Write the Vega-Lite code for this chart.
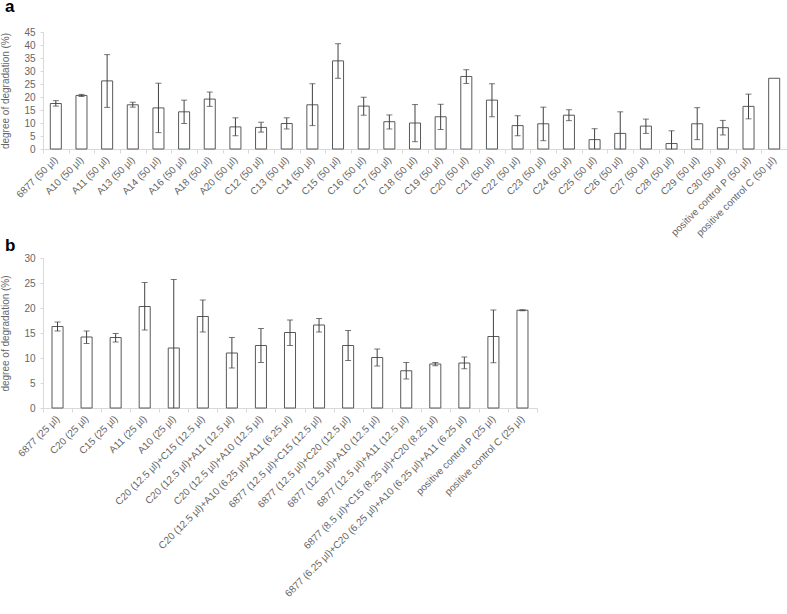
{
  "$schema": "https://vega.github.io/schema/vega-lite/v6.json",
  "padding": {"left": 0, "top": -2, "right": 0, "bottom": 0},
  "bounds": "flush",
  "spacing": 109,
  "config": {
    "view": {"stroke": null},
    "font": "Liberation Sans",
    "axis": {
      "grid": false,
      "domainColor": "#d9d9d9",
      "tickColor": "#d9d9d9",
      "labelColor": "#666666",
      "titleColor": "#666666",
      "labelFont": "Liberation Sans",
      "titleFont": "Liberation Sans",
      "labelFontSize": 10,
      "titleFontSize": 10,
      "titleFontWeight": "normal",
      "labelOverlap": false
    }
  },
  "datasets": {
    "a": [
      {"name": "6877 (50 µl)", "value": 17.5, "lo": 16.5, "hi": 18.6},
      {"name": "A10  (50 µl)", "value": 20.6, "lo": 20.2, "hi": 21.0},
      {"name": "A11 (50 µl)", "value": 26.2, "lo": 16.0, "hi": 36.3},
      {"name": "A13 (50 µl)", "value": 17.0, "lo": 16.1, "hi": 18.0},
      {"name": "A14 (50 µl)", "value": 15.8, "lo": 6.3, "hi": 25.3},
      {"name": "A16 (50 µl)", "value": 14.3, "lo": 9.8, "hi": 18.8},
      {"name": "A18 (50 µl)", "value": 19.2, "lo": 16.4, "hi": 21.9},
      {"name": "A20 (50 µl)", "value": 8.5, "lo": 5.1, "hi": 12.0},
      {"name": "C12 (50 µl)", "value": 8.3, "lo": 6.5, "hi": 10.3},
      {"name": "C13 (50 µl)", "value": 9.8, "lo": 7.7, "hi": 12.0},
      {"name": "C14 (50 µl)", "value": 17.0, "lo": 9.0, "hi": 25.1},
      {"name": "C15 (50 µl)", "value": 33.9, "lo": 27.2, "hi": 40.5},
      {"name": "C16 (50 µl)", "value": 16.5, "lo": 13.0, "hi": 19.9},
      {"name": "C17 (50 µl)", "value": 10.5, "lo": 7.7, "hi": 13.1},
      {"name": "C18 (50 µl)", "value": 10.0, "lo": 2.8, "hi": 17.1},
      {"name": "C19 (50 µl)", "value": 12.4, "lo": 7.5, "hi": 17.2},
      {"name": "C20 (50 µl)", "value": 27.9, "lo": 25.2, "hi": 30.5},
      {"name": "C21 (50 µl)", "value": 18.8, "lo": 12.4, "hi": 25.1},
      {"name": "C22 (50 µl)", "value": 9.0, "lo": 5.1, "hi": 12.8},
      {"name": "C23 (50 µl)", "value": 9.7, "lo": 3.2, "hi": 16.1},
      {"name": "C24 (50 µl)", "value": 13.0, "lo": 10.9, "hi": 15.1},
      {"name": "C25 (50 µl)", "value": 3.6, "lo": -0.6, "hi": 7.8},
      {"name": "C26 (50 µl)", "value": 6.0, "lo": -2.3, "hi": 14.3},
      {"name": "C27 (50 µl)", "value": 8.8, "lo": 6.0, "hi": 11.5},
      {"name": "C28 (50 µl)", "value": 2.1, "lo": -2.8, "hi": 7.0},
      {"name": "C29 (50 µl)", "value": 9.7, "lo": 3.6, "hi": 15.9},
      {"name": "C30 (50 µl)", "value": 8.2, "lo": 5.4, "hi": 11.0},
      {"name": "positive control P  (50 µl)", "value": 16.4, "lo": 11.6, "hi": 21.1},
      {"name": "positive control C (50 µl)", "value": 27.2, "lo": null, "hi": null}
    ],
    "b": [
      {"name": "6877 (25 µl)", "value": 16.3, "lo": 15.4, "hi": 17.2},
      {"name": "C20 (25 µl)", "value": 14.2, "lo": 12.9, "hi": 15.4},
      {"name": "C15 (25 µl)", "value": 14.1, "lo": 13.2, "hi": 14.9},
      {"name": "A11 (25 µl)", "value": 20.3, "lo": 15.6, "hi": 25.1},
      {"name": "A10 (25 µl)", "value": 12.0, "lo": -1.7, "hi": 25.7},
      {"name": "C20 (12.5 µl)+C15 (12.5 µl)", "value": 18.3, "lo": 15.2, "hi": 21.6},
      {"name": "C20 (12.5 µl)+A11 (12.5 µl)", "value": 11.0, "lo": 8.0, "hi": 14.1},
      {"name": "C20 (12.5 µl)+A10 (12.5 µl)", "value": 12.5, "lo": 9.1, "hi": 15.9},
      {"name": "C20 (12.5 µl)+A10 (6.25 µl)+A11 (6.25 µl)", "value": 15.1, "lo": 12.5, "hi": 17.6},
      {"name": "6877 (12.5 µl)+C15 (12.5 µl)", "value": 16.6, "lo": 15.2, "hi": 17.9},
      {"name": "6877 (12.5 µl)+C20 (12.5 µl)", "value": 12.5, "lo": 9.5, "hi": 15.5},
      {"name": "6877 (12.5 µl)+A10 (12.5 µl)", "value": 10.1, "lo": 8.4, "hi": 11.8},
      {"name": "6877 (12.5 µl)+A11 (12.5 µl)", "value": 7.45, "lo": 5.8, "hi": 9.1},
      {"name": "6877 (8.5 µl)+C15 (8.25 µl)+C20 (8.25 µl)", "value": 8.8, "lo": 8.45, "hi": 9.1},
      {"name": "6877 (6.25 µl)+C20 (6.25 µl)+A10 (6.25 µl)+A11 (6.25 µl)", "value": 9.0, "lo": 7.85, "hi": 10.2},
      {"name": "positive control P (25 µl)", "value": 14.3, "lo": 9.05, "hi": 19.6},
      {"name": "positive control C (25 µl)", "value": 19.55, "lo": 19.45, "hi": 19.65}
    ]
  },
  "vconcat": [
    {
      "title": {"text": "a", "anchor": "start", "frame": "group", "dx": -38, "offset": -2.2, "fontSize": 17, "fontWeight": "bold", "color": "#000000", "baseline": "alphabetic", "font": "Liberation Sans"},
      "width": 744,
      "height": 117,
      "data": {"name": "a"},
      "encoding": {
        "x": {
          "field": "name", "type": "nominal", "sort": null,
          "scale": {"paddingInner": 0, "paddingOuter": 0},
          "axis": {"title": null, "labelAngle": -45, "labelAlign": "right", "labelBaseline": "middle", "tickBand": "extent", "tickSize": 4, "labelPadding": 5, "labelLimit": 500}
        }
      },
      "layer": [
        {
          "mark": {"type": "bar", "fill": "white", "stroke": "#595959", "strokeWidth": 1, "width": {"band": 0.43}},
          "encoding": {
            "y": {"field": "value", "type": "quantitative", "scale": {"domain": [0, 45], "nice": false},
              "axis": {"title": "degree of degradation (%)", "values": [0, 5, 10, 15, 20, 25, 30, 35, 40, 45], "labelOverlap": false, "tickSize": 3, "labelPadding": 5, "titlePadding": 13}}
          }
        },
        {
          "mark": {"type": "rule", "color": "#404040", "strokeWidth": 1, "clip": true},
          "encoding": {"y": {"field": "lo", "type": "quantitative", "axis": {"title": "degree of degradation (%)", "values": [0, 5, 10, 15, 20, 25, 30, 35, 40, 45], "labelOverlap": false, "tickSize": 3, "labelPadding": 5, "titlePadding": 13}}, "y2": {"field": "hi"}}
        },
        {
          "mark": {"type": "tick", "color": "#404040", "size": 6, "thickness": 1, "clip": true},
          "encoding": {"y": {"field": "lo", "type": "quantitative", "axis": {"title": "degree of degradation (%)", "values": [0, 5, 10, 15, 20, 25, 30, 35, 40, 45], "labelOverlap": false, "tickSize": 3, "labelPadding": 5, "titlePadding": 13}}}
        },
        {
          "mark": {"type": "tick", "color": "#404040", "size": 6, "thickness": 1, "clip": true},
          "encoding": {"y": {"field": "hi", "type": "quantitative", "axis": {"title": "degree of degradation (%)", "values": [0, 5, 10, 15, 20, 25, 30, 35, 40, 45], "labelOverlap": false, "tickSize": 3, "labelPadding": 5, "titlePadding": 13}}}
        }
      ]
    },
    {
      "title": {"text": "b", "anchor": "start", "frame": "group", "dx": -38, "offset": -15, "fontSize": 17, "fontWeight": "bold", "color": "#000000", "baseline": "alphabetic", "font": "Liberation Sans"},
      "width": 494,
      "height": 150,
      "data": {"name": "b"},
      "encoding": {
        "x": {
          "field": "name", "type": "nominal", "sort": null,
          "scale": {"paddingInner": 0, "paddingOuter": 0},
          "axis": {"title": null, "labelAngle": -45, "labelAlign": "right", "labelBaseline": "middle", "tickBand": "extent", "tickSize": 4, "labelPadding": 5, "labelLimit": 500}
        }
      },
      "layer": [
        {
          "mark": {"type": "bar", "fill": "white", "stroke": "#595959", "strokeWidth": 1, "width": {"band": 0.38}},
          "encoding": {
            "y": {"field": "value", "type": "quantitative", "scale": {"domain": [0, 30], "nice": false},
              "axis": {"title": "degree of degradation (%)", "values": [0, 5, 10, 15, 20, 25, 30], "labelOverlap": false, "tickSize": 3, "labelPadding": 5, "titlePadding": 13}}
          }
        },
        {
          "mark": {"type": "rule", "color": "#404040", "strokeWidth": 1, "clip": true},
          "encoding": {"y": {"field": "lo", "type": "quantitative", "axis": {"title": "degree of degradation (%)", "values": [0, 5, 10, 15, 20, 25, 30], "labelOverlap": false, "tickSize": 3, "labelPadding": 5, "titlePadding": 13}}, "y2": {"field": "hi"}}
        },
        {
          "mark": {"type": "tick", "color": "#404040", "size": 6, "thickness": 1, "clip": true},
          "encoding": {"y": {"field": "lo", "type": "quantitative", "axis": {"title": "degree of degradation (%)", "values": [0, 5, 10, 15, 20, 25, 30], "labelOverlap": false, "tickSize": 3, "labelPadding": 5, "titlePadding": 13}}}
        },
        {
          "mark": {"type": "tick", "color": "#404040", "size": 6, "thickness": 1, "clip": true},
          "encoding": {"y": {"field": "hi", "type": "quantitative", "axis": {"title": "degree of degradation (%)", "values": [0, 5, 10, 15, 20, 25, 30], "labelOverlap": false, "tickSize": 3, "labelPadding": 5, "titlePadding": 13}}}
        }
      ]
    }
  ]
}
